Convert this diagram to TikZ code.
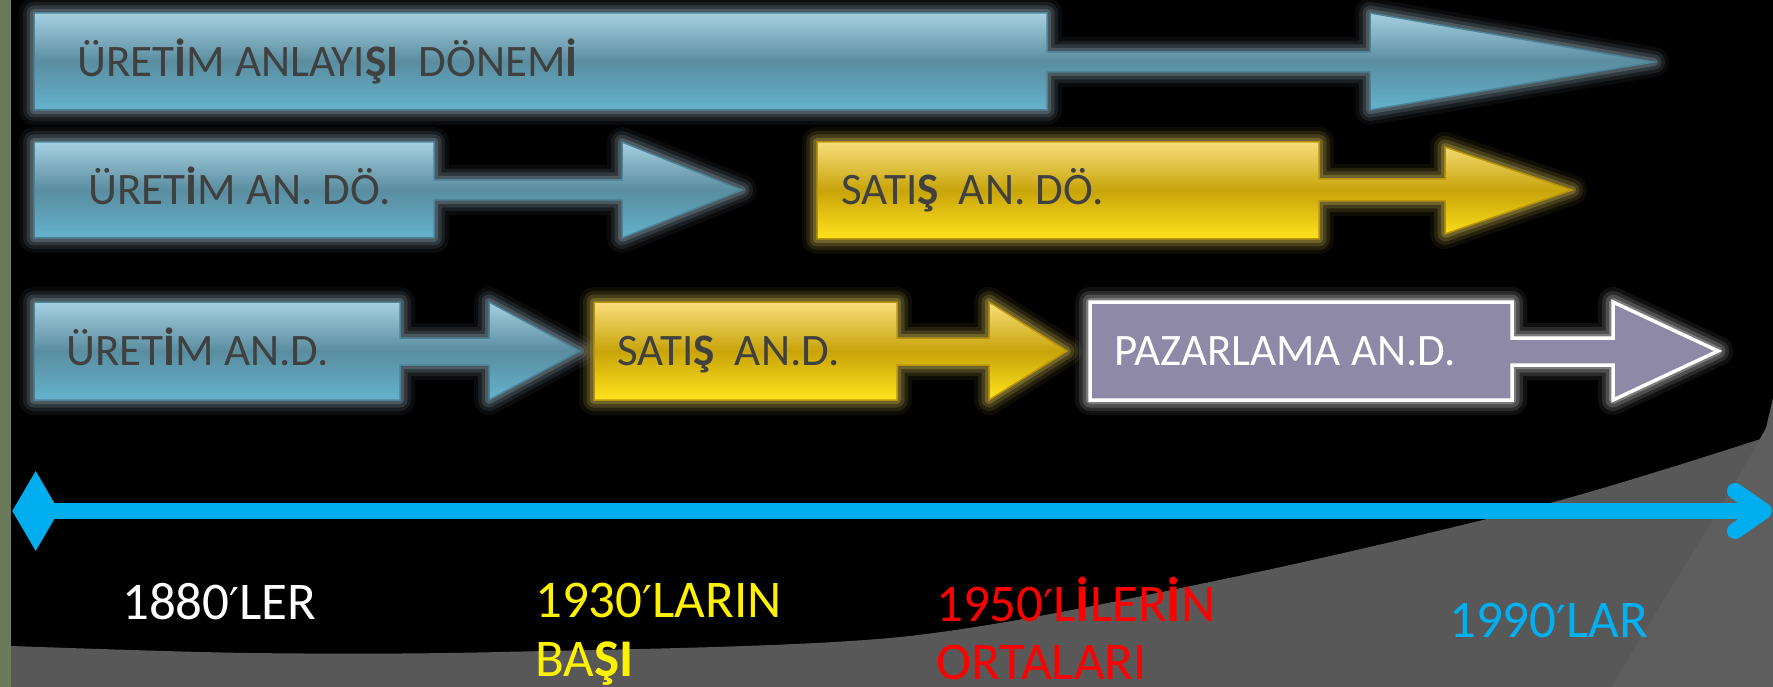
\documentclass[tikz,border=0pt]{standalone}
\usepackage{fontspec}
\setmainfont{Carlito}
\newfontfamily\primefont{DejaVu Sans}
\newcommand{\prm}{{\primefont\fontsize{44}{50}\selectfont ′}}
\definecolor{barcol}{HTML}{6B7A5B}
\definecolor{greymain}{HTML}{585858}
\definecolor{greylight}{HTML}{5E5E5E}
\definecolor{bTop}{HTML}{A6D0E0}
\definecolor{bMid}{HTML}{5A8DA0}
\definecolor{bBot}{HTML}{64B2CD}
\definecolor{bEdge}{HTML}{4D8297}
\definecolor{bGlow}{HTML}{8098A2}
\definecolor{yTop}{HTML}{F8DE7A}
\definecolor{yMid}{HTML}{C8A40A}
\definecolor{yBot}{HTML}{FFE31C}
\definecolor{yEdge}{HTML}{B8940A}
\definecolor{yGlow}{HTML}{BFA64A}
\definecolor{pFill}{HTML}{8D89A6}
\definecolor{pGlow}{HTML}{D0D0D0}
\definecolor{txtcol}{HTML}{404040}
\definecolor{tlcol}{HTML}{00AEEF}
\definecolor{ycyan}{HTML}{00B0F0}
\newcommand{\glowshape}[2]{%
  \foreach \w/\o in {30/0.08,22/0.14,15/0.22,8/0.35}{%
    \draw[#1, line width=\w pt, opacity=\o, line join=round] #2;}}
\def\shpA{(34,13) -- (1047,13) -- (1047,52) -- (1370,52) -- (1370,13) -- (1654,62) -- (1370,110) -- (1370,72) -- (1047,72) -- (1047,110) -- (34,110) -- cycle}
\def\shpB{(34,142) -- (434,142) -- (434,180) -- (622,180) -- (622,142) -- (742,190) -- (622,238) -- (622,200) -- (434,200) -- (434,238) -- (34,238) -- cycle}
\def\shpC{(817,142) -- (1319,142) -- (1319,179) -- (1445,179) -- (1445,147) -- (1572,190) -- (1445,234) -- (1445,201) -- (1319,201) -- (1319,239) -- (817,239) -- cycle}
\def\shpD{(34,302) -- (400,302) -- (400,338) -- (489,338) -- (489,302) -- (580,351) -- (489,400) -- (489,365) -- (400,365) -- (400,400) -- (34,400) -- cycle}
\def\shpE{(594,302) -- (897,302) -- (897,338) -- (989,338) -- (989,302) -- (1067,351) -- (989,400) -- (989,365) -- (897,365) -- (897,400) -- (594,400) -- cycle}
\def\shpF{(1090,302) -- (1512,302) -- (1512,338) -- (1613,338) -- (1613,302) -- (1718,351) -- (1613,400) -- (1613,365) -- (1512,365) -- (1512,400) -- (1090,400) -- cycle}
\tikzset{
  blueshape/.style={top color=bTop, bottom color=bBot, middle color=bMid, draw=bEdge, line width=1.5pt},
  yellowshape/.style={top color=yTop, bottom color=yBot, middle color=yMid, draw=yEdge, line width=1.5pt},
  purpleshape/.style={fill=pFill, draw=white, line width=3.5pt},
  boxtxt/.style={inner sep=0pt, anchor=base west, text=txtcol, font=\fontsize{45}{50}\selectfont},
  yeartxt/.style={inner sep=0pt, anchor=base west, font=\fontsize{53}{60}\selectfont},
}
\begin{document}
\begin{tikzpicture}[x=1pt,y=-1pt]
\useasboundingbox (0,0) rectangle (1773,687);
\fill[black] (0,0) rectangle (1773,687);
% grey background areas
\fill[greymain] (11,687) -- plot[smooth] coordinates {(11,646) (250,653) (500,652) (900,637) (1234,577) (1550,503) (1773,435)} -- (1773,687) -- cycle;
\fill[greylight] (1773,398) -- (1766,428) .. controls (1710,530) and (1655,610) .. (1612,687) -- (1773,687) -- cycle;
\fill[barcol] (0,0) rectangle (11,687);
% glows
\glowshape{bGlow}{\shpA}
\glowshape{bGlow}{\shpB}
\glowshape{yGlow}{\shpC}
\glowshape{bGlow}{\shpD}
\glowshape{yGlow}{\shpE}
\glowshape{pGlow}{\shpF}
% shapes
\shadedraw[blueshape] \shpA;
\shadedraw[blueshape] \shpB;
\shadedraw[yellowshape] \shpC;
\shadedraw[blueshape] \shpD;
\shadedraw[yellowshape] \shpE;
\filldraw[purpleshape, line join=miter] \shpF;
% texts in shapes
\node[boxtxt] (t1) at (77,77) {ÜRET\textbf{İ}M ANLAYI\textbf{ŞI}\ \ DÖNEM\textbf{İ}};
\node[boxtxt] (t2) at (88,205) {ÜRET\textbf{İ}M AN. DÖ.};
\node[boxtxt] (t3) at (841,205) {SATI\textbf{Ş}\ \ AN. DÖ.};
\node[boxtxt] (t4) at (66,365) {ÜRET\textbf{İ}M AN.D.};
\node[boxtxt] (t5) at (617,365) {SATI\textbf{Ş}\ \ AN.D.};
\node[boxtxt, text=white] (t6) at (1114,365) {PAZARLAMA AN.D.};
% timeline
\coordinate (tlL) at (50,511);
\coordinate (tlR) at (1758,511);
\coordinate (tip) at (1764,511);
\coordinate (barbU) at (1735,491);
\coordinate (barbD) at (1735,531);
\fill[tlcol] (12.3,511) -- (35.7,471) -- (59,511) -- (35.7,551) -- cycle;
\draw[tlcol, line width=16pt] (tlL) -- (tlR);
\draw[tlcol, line width=16pt, line cap=round, line join=round] (barbU) -- (tip) -- (barbD);
% years
\node[yeartxt, text=white] (y1) at (122,619) {1880\prm LER};
\node[yeartxt, text=yellow] (y2a) at (535,617) {1930\prm LARIN};
\node[yeartxt, text=yellow] (y2b) at (535,676) {BA\textbf{ŞI}};
\node[yeartxt, text=red] (y3a) at (936,621) {1950\prm L\textbf{İ}LER\textbf{İ}N};
\node[yeartxt, text=red] (y3b) at (936,679) {ORTALARI};
\node[yeartxt, text=ycyan] (y4) at (1449,637) {1990\prm LAR};
\end{tikzpicture}
\end{document}
